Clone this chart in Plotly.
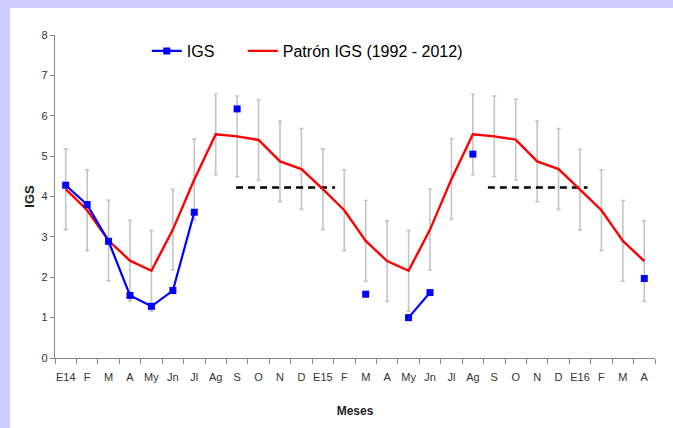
import plotly.graph_objects as go

# ---- data ----
meses = ["E14", "F", "M", "A", "My", "Jn", "Jl", "Ag", "S", "O", "N", "D",
         "E15", "F", "M", "A", "My", "Jn", "Jl", "Ag", "S", "O", "N", "D",
         "E16", "F", "M", "A"]
patron = [4.18, 3.66, 2.91, 2.41, 2.16, 3.18, 4.42, 5.54, 5.49, 5.40, 4.87, 4.68,
          4.18, 3.66, 2.90, 2.40, 2.16, 3.18, 4.43, 5.54, 5.49, 5.41, 4.87, 4.68,
          4.17, 3.66, 2.90, 2.40]
desviacion = 1.0
igs = [4.28, 3.80, 2.89, 1.55, 1.28, 1.67, 3.61, None, 6.17, None, None, None,
       None, None, 1.58, None, 1.00, 1.62, None, 5.05, None, None, None, None,
       None, None, None, 1.97]
umbral = 4.22
umbral_x1 = [7.95, 12.57]
umbral_x2 = [19.7, 24.35]

x = list(range(len(meses)))

fig = go.Figure()

# error bars (behind lines)
fig.add_trace(go.Scatter(
    x=x, y=patron, mode="markers", marker=dict(size=0.1, color="rgba(0,0,0,0)"),
    error_y=dict(type="constant", value=desviacion, color="#C4C4C4", thickness=1.6, width=2),
    showlegend=False, hoverinfo="skip"))

# dashed threshold lines
for ux in (umbral_x1, umbral_x2):
    fig.add_trace(go.Scatter(
        x=ux, y=[umbral, umbral], mode="lines",
        line=dict(color="black", width=2.5, dash="7px,5px"),
        showlegend=False, hoverinfo="skip"))

fig.add_trace(go.Scatter(
    x=x, y=patron, mode="lines", name="Patrón IGS (1992 - 2012)",
    line=dict(color="#FF0000", width=2.4), legend="legend2"))

fig.add_trace(go.Scatter(
    x=x, y=igs, mode="lines+markers", name="IGS",
    line=dict(color="#0000FF", width=2.2),
    marker=dict(symbol="square", size=7, color="#0000FF"),
    connectgaps=False, legend="legend"))

# plot area: x 55..655, y 35..358
fig.update_layout(
    width=673, height=428, autosize=False,
    margin=dict(l=55, r=18, t=35, b=70, pad=0),
    paper_bgcolor="#CCCCFF", plot_bgcolor="white",
    font=dict(family="Arial, Liberation Sans, sans-serif", color="#222222"),
    legend=dict(orientation="h", x=0.153, y=0.9505, xanchor="left", yanchor="middle",
                font=dict(size=16, color="black"), bgcolor="rgba(0,0,0,0)",
                itemwidth=30),
    legend2=dict(orientation="h", x=0.313, y=0.9505, xanchor="left", yanchor="middle",
                 font=dict(size=16, color="black"), bgcolor="rgba(0,0,0,0)",
                 itemwidth=30),
    shapes=[dict(type="rect", xref="paper", yref="paper",
                 x0=(10 - 55) / 600, x1=1.1, y0=-0.3, y1=(358 - 8) / 323,
                 fillcolor="white", line=dict(width=0), layer="below")],
)

fig.update_xaxes(
    range=[-0.5, len(meses) - 0.5], tickmode="array", tickvals=x, ticktext=meses,
    ticks="", showgrid=False, zeroline=False, showline=True,
    linecolor="#868686", linewidth=1.2,
    tickfont=dict(size=11, color="#333333"), ticklabelstandoff=9,
    minor=dict(tickmode="linear", tick0=-0.5, dtick=1, ticks="outside",
               ticklen=5, tickcolor="#868686", tickwidth=1, showgrid=False),
    title=dict(text="<b>Meses</b>", font=dict(size=12, color="#222222"), standoff=24),
)

fig.update_yaxes(
    range=[0, 8], tickmode="linear", tick0=0, dtick=1,
    ticks="outside", ticklen=4, tickcolor="#868686", showgrid=False, zeroline=False,
    showline=True, linecolor="#868686", linewidth=1.2,
    tickfont=dict(size=11, color="#333333"),
    title=dict(text="<b>IGS</b>", font=dict(size=13, color="#222222"), standoff=4),
)

fig.write_html(
    "out.html",
    config={"displayModeBar": False},
    post_script="document.body.style.margin='0';document.body.style.overflow='hidden';"
                "document.body.style.background='#CCCCFF';",
)
